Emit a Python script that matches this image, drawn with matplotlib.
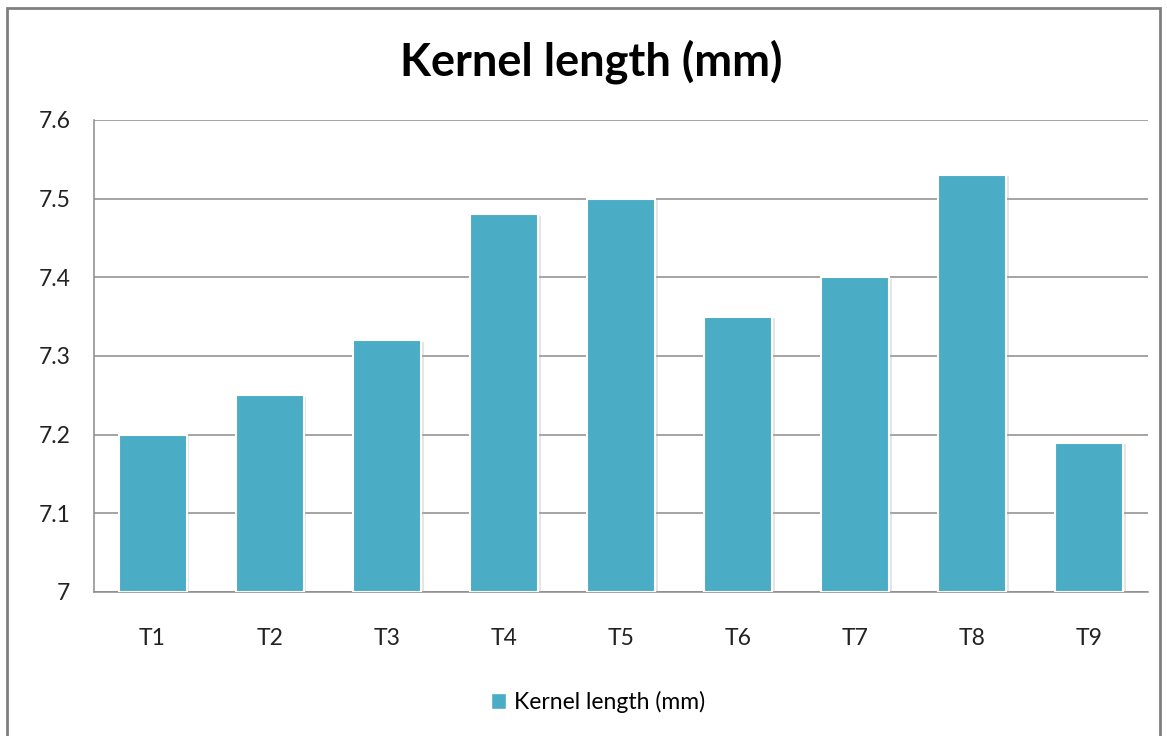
import matplotlib.pyplot as plt
import matplotlib.patheffects as pe
from matplotlib.patches import Rectangle

categories = ['T1', 'T2', 'T3', 'T4', 'T5', 'T6', 'T7', 'T8', 'T9']
kernelLength = [7.20, 7.25, 7.32, 7.48, 7.50, 7.35, 7.40, 7.53, 7.19]
yTicks = [7.0, 7.1, 7.2, 7.3, 7.4, 7.5, 7.6]
yTickLabels = ['7', '7.1', '7.2', '7.3', '7.4', '7.5', '7.6']

plt.rcParams['font.family'] = ['Lato', 'DejaVu Sans']

fig = plt.figure(figsize=(11.67, 7.36), dpi=100)
ax = fig.add_axes([94 / 1167, 1 - 592 / 736, (1148 - 94) / 1167, (592 - 120) / 736])

barColor = '#4BACC6'
bars = ax.bar(range(len(categories)), [v - 7 for v in kernelLength], bottom=7,
              width=0.58, color=barColor, edgecolor='white', linewidth=1.5,
              label='Kernel length (mm)', zorder=3)
for b in bars:
    b.set_path_effects([pe.SimplePatchShadow(offset=(2, -1), shadow_rgbFace='#aaaaaa', alpha=0.3),
                        pe.Normal()])

ax.set_ylim(7, 7.6)
ax.set_xlim(-0.5, len(categories) - 0.5)
ax.set_yticks(yTicks)
ax.set_yticklabels(yTickLabels)
ax.set_xticks(range(len(categories)))
ax.set_xticklabels(categories)
ax.tick_params(axis='both', length=0, labelsize=16.5, colors='#222222')
ax.tick_params(axis='y', pad=17)
ax.tick_params(axis='x', pad=26)
ax.grid(axis='y', color='#8c8c8c', linewidth=1.1, zorder=0)
for s in ['top', 'right']:
    ax.spines[s].set_visible(False)
for s in ['left', 'bottom']:
    ax.spines[s].set_color('#8c8c8c')
    ax.spines[s].set_linewidth(1.1)

fig.text(591 / 1167, 1 - 62 / 736, 'Kernel length (mm)', ha='center', va='center',
         fontsize=32.5, fontweight='bold', color='black')

legendHandle = Rectangle((0, 0), 1, 1, facecolor=barColor, edgecolor='white')
fig.legend(handles=[legendHandle], labels=['Kernel length (mm)'], loc='center',
           bbox_to_anchor=(598 / 1167, 1 - 702 / 736), frameon=False, fontsize=16.5,
           handlelength=0.65, handleheight=0.65, handletextpad=0.35)

# outer chart border
fig.patches.append(Rectangle((7 / 1167, -0.01), (1160 - 7) / 1167, 1 - 8 / 736 + 0.01,
                             transform=fig.transFigure, fill=False,
                             edgecolor='#808080', linewidth=2))

plt.savefig('out.png', dpi=100)
plt.close()
